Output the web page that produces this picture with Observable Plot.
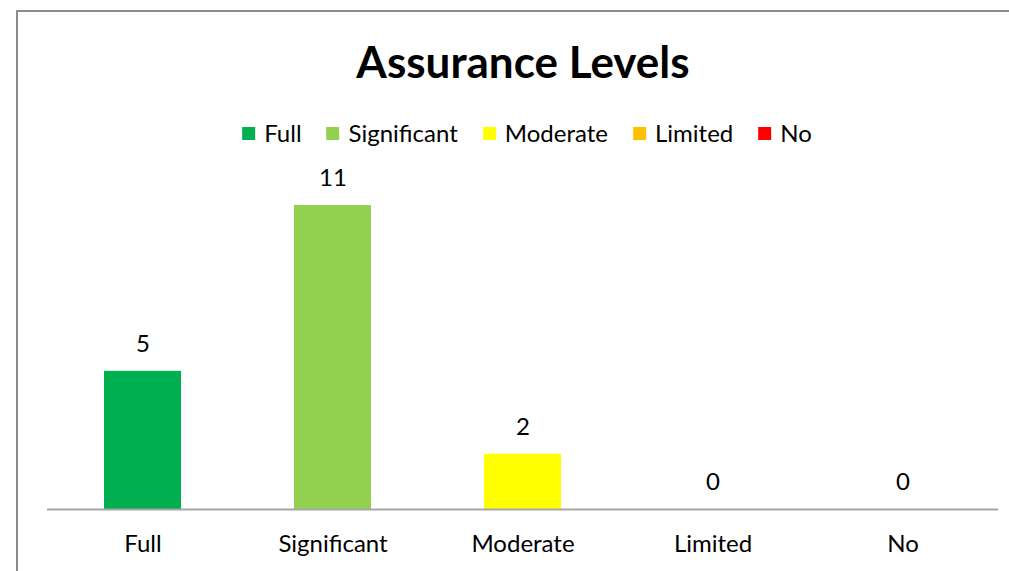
<!DOCTYPE html>
<html>
<head>
<meta charset="utf-8">
<script src="https://cdn.jsdelivr.net/npm/d3@7"></script>
<script src="https://cdn.jsdelivr.net/npm/@observablehq/plot@0.6"></script>
<style>
  html, body { margin: 0; padding: 0; background: #fff; }
  body { width: 1009px; height: 571px; position: relative; overflow: hidden; font-family: Lato, "Open Sans", sans-serif; }
  #frame { position: absolute; left: 16px; top: 10px; width: 1100px; height: 700px; border-top: 2px solid #8c8c8c; border-left: 2px solid #8c8c8c; box-sizing: border-box; }
  #title { position: absolute; top: 34px; left: 523px; transform: translateX(-50%); font-size: 44px; font-weight: bold; color: #000; white-space: nowrap; line-height: 54px; }
  #legend { position: absolute; top: 118px; left: 527px; transform: translateX(-50%); display: flex; gap: 25px; white-space: nowrap; font-size: 24px; line-height: 30px; color: #000; }
  .item { display: flex; align-items: center; gap: 9px; }
  .sw { width: 13px; height: 13px; display: inline-block; }
  #chart { position: absolute; left: 0; top: 150px; }
</style>
</head>
<body>
<div id="frame"></div>
<div id="title">Assurance Levels</div>
<div id="legend"></div>
<div id="chart"></div>
<script>
const categories = ["Full", "Significant", "Moderate", "Limited", "No"];
const values = [5, 11, 2, 0, 0];
const colors = ["#00b050", "#92d050", "#ffff00", "#ffc000", "#ff0000"];

const data = categories.map((c, i) => ({category: c, value: values[i], color: colors[i]}));

const legend = document.getElementById("legend");
categories.forEach((c, i) => {
  const it = document.createElement("div");
  it.className = "item";
  const sw = document.createElement("span");
  sw.className = "sw";
  sw.style.background = colors[i];
  const tx = document.createElement("span");
  tx.textContent = c;
  it.appendChild(sw);
  it.appendChild(tx);
  legend.appendChild(it);
});

const chart = Plot.plot({
  width: 1009,
  height: 421,
  marginLeft: 47,
  marginRight: 11,
  marginTop: 55,
  marginBottom: 62,
  style: { fontFamily: "Lato, 'Open Sans', sans-serif", fontSize: "24px", color: "#000", background: "transparent" },
  x: { domain: categories, paddingInner: 0.595, paddingOuter: 0.2975, label: null },
  y: { domain: [0, 11], axis: null },
  marks: [
    Plot.barY(data, { x: "category", y: "value", fill: "color" }),
    Plot.ruleY([0], { stroke: "#a6a6a6", strokeWidth: 2 }),
    Plot.text(data, { x: "category", y: "value", text: d => String(d.value), dy: -27, fontSize: 24, fill: "#000" }),
    Plot.axisX({ tickSize: 0, tickPadding: 25, fontSize: 24, label: null, fill: "#000" })
  ]
});
document.getElementById("chart").appendChild(chart);
</script>
</body>
</html>
